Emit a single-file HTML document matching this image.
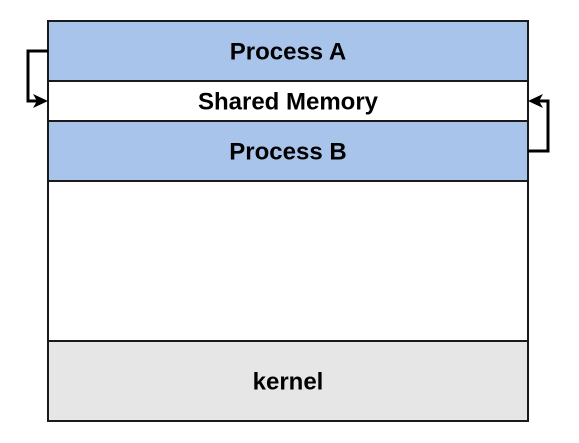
<!DOCTYPE html>
<html><head><meta charset="utf-8"><style>html,body{margin:0;padding:0;background:#fff}svg{display:block}</style></head>
<body>
<svg width="579" height="443" viewBox="0 0 579 443" xmlns="http://www.w3.org/2000/svg" font-family="Liberation Sans, sans-serif" font-weight="bold" font-size="24">
<rect x="48" y="21" width="480" height="60" fill="#A9C4EB" stroke="#1a1a1a" stroke-width="2"/>
<rect x="48" y="81" width="480" height="40" fill="#fff" stroke="#1a1a1a" stroke-width="2"/>
<rect x="48" y="121" width="480" height="60" fill="#A9C4EB" stroke="#1a1a1a" stroke-width="2"/>
<rect x="48" y="181" width="480" height="160" fill="#fff" stroke="#1a1a1a" stroke-width="2"/>
<rect x="48" y="341" width="480" height="80" fill="#E6E6E6" stroke="#1a1a1a" stroke-width="2"/>
<text x="288" y="59.5" text-anchor="middle">Process A</text>
<text x="288" y="109.5" text-anchor="middle">Shared Memory</text>
<text x="288" y="159.5" text-anchor="middle">Process B</text>
<text x="288" y="389.5" text-anchor="middle">kernel</text>
<path d="M48 51 H28 V101 H40" fill="none" stroke="#000" stroke-width="3"/>
<path d="M48 101 L33 94 L37 101 L33 108 Z" fill="#000"/>
<path d="M528 151 H548 V101 H536" fill="none" stroke="#000" stroke-width="3"/>
<path d="M528 101 L543 94 L539 101 L543 108 Z" fill="#000"/>
</svg>
</body></html>
